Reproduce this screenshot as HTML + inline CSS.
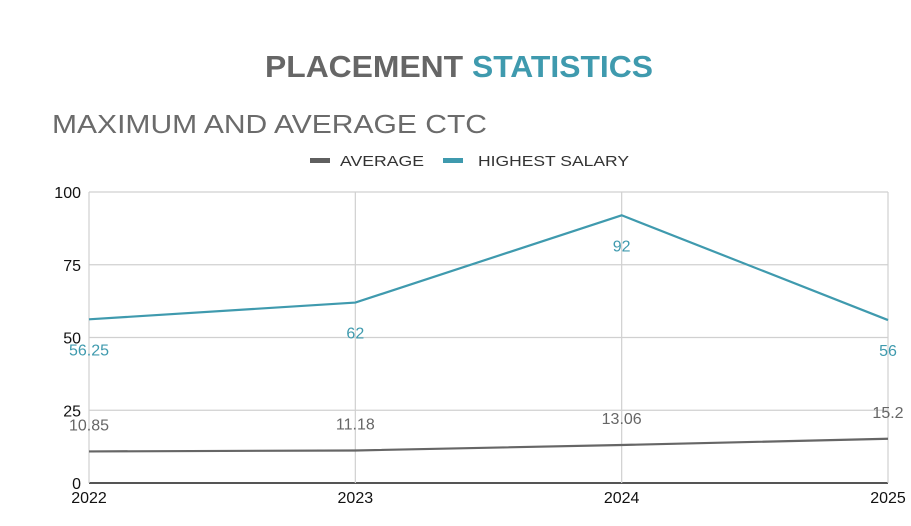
<!DOCTYPE html>
<html><head><meta charset="utf-8"><style>
html,body{margin:0;padding:0;background:#fff;}
body{width:911px;height:526px;overflow:hidden;font-family:"Liberation Sans",sans-serif;}
</style></head><body>
<svg width="911" height="526" style="position:absolute;left:0;top:0">
<text x="265" y="77" textLength="388" lengthAdjust="spacingAndGlyphs" font-size="31" font-weight="bold" fill="#666">PLACEMENT <tspan fill="#3f9aae">STATISTICS</tspan></text>
<text x="52" y="133" textLength="435" lengthAdjust="spacingAndGlyphs" font-size="26" fill="#6b6b6b">MAXIMUM AND AVERAGE CTC</text>
<g>
<rect x="310" y="158" width="20" height="5" fill="#5f5f5f"/>
<text x="340" y="166" textLength="84" lengthAdjust="spacingAndGlyphs" font-size="15" fill="#333">AVERAGE</text>
<rect x="443" y="158" width="20" height="5" fill="#3f9aae"/>
<text x="478" y="166" textLength="151" lengthAdjust="spacingAndGlyphs" font-size="15" fill="#333">HIGHEST SALARY</text>
</g>
<g id="grid"></g><g id="series"></g><g id="labels"></g>
</svg>
<script>
const years=["2022","2023","2024","2025"];
const average=[10.85,11.18,13.06,15.2];
const highest=[56.25,62,92,56];
const yTicks=[0,25,50,75,100];
const NS="http://www.w3.org/2000/svg";
const X0=89,X1=888,Y0=483,Y1=192;
const xs=i=>X0+(X1-X0)*i/(years.length-1);
const ys=v=>Y0-(Y0-Y1)*v/100;
function mk(tag,attrs,parent,txt){const e=document.createElementNS(NS,tag);for(const k in attrs)e.setAttribute(k,attrs[k]);if(txt!==undefined)e.textContent=txt;parent.appendChild(e);return e;}
const grid=document.getElementById('grid'),ser=document.getElementById('series'),lab=document.getElementById('labels');
yTicks.forEach(t=>{
 const l=mk('line',{x1:X0,x2:X1,y1:ys(t),y2:ys(t),stroke:t===0?'#555':'#d0d0d0','stroke-width':t===0?2:1.2},grid);
 
 
 const tx=mk('text',{x:81,y:ys(t)+6,'text-anchor':'end','font-size':16,fill:'#111'},grid,String(t));
 
 
});
years.forEach((yr,i)=>{
 const l=mk('line',{x1:xs(i),x2:xs(i),y1:Y1,y2:Y0,stroke:'#d0d0d0','stroke-width':1.2},grid);
 
 
 const tx=mk('text',{x:xs(i),y:503,'text-anchor':'middle','font-size':16,fill:'#111'},grid,yr);
 
 
});
function line(data,color,name,dy){
 const p=mk('polyline',{points:data.map((v,i)=>xs(i)+','+ys(v)).join(' '),fill:'none',stroke:color,'stroke-width':2.2},ser);
 
 
 data.forEach((v,i)=>{
  const t=mk('text',{x:xs(i),y:ys(v)+dy,'text-anchor':'middle','font-size':16,fill:color},lab,String(v));
  
  
 });
}
line(average,'#666','average',-21);
line(highest,'#3f9aae','highest-salary',36);
</script>
</body></html>
